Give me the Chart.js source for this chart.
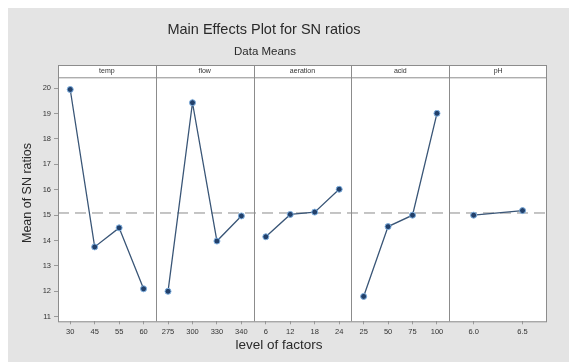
<!DOCTYPE html>
<html>
<head>
<meta charset="utf-8">
<script src="https://cdn.jsdelivr.net/npm/chart.js@4/dist/chart.umd.min.js"></script>
<style>
  html, body { margin: 0; padding: 0; background: #ffffff; }
  #wrap { width: 569px; height: 362px; position: relative; }
</style>
</head>
<body>
<div id="wrap"><canvas id="c" width="569" height="362"></canvas></div>
<script>
// Factor names shown in the panel headers
const factors = ['temp', 'flow', 'aeration', 'acid', 'pH'];

// Levels of each factor and the mean SN ratio at each level
const tempLevels = ['30', '45', '55', '60'];
const tempMeans = [19.95, 13.75, 14.50, 12.10];

const flowLevels = ['275', '300', '330', '340'];
const flowMeans = [12.00, 19.43, 13.98, 14.97];

const aerationLevels = ['6', '12', '18', '24'];
const aerationMeans = [14.15, 15.03, 15.12, 16.02];

const acidLevels = ['25', '50', '75', '100'];
const acidMeans = [11.80, 14.55, 15.00, 19.01];

const phLevels = ['6.0', '6.5'];
const phMeans = [15.00, 15.18];

// Y axis tick values
const yTickValues = [11, 12, 13, 14, 15, 16, 17, 18, 19, 20];

const levelSets = [tempLevels, flowLevels, aerationLevels, acidLevels, phLevels];
const meanSets = [tempMeans, flowMeans, aerationMeans, acidMeans, phMeans];

// Grand mean: average of each factor's level means, then across factors
const factorAvgs = meanSets.map(m => m.reduce((a, b) => a + b, 0) / m.length);
const grandMean = factorAvgs.reduce((a, b) => a + b, 0) / factorAvgs.length;

// Each factor occupies one unit on the x scale; levels sit at equal spacing inside it
const xTickEntries = [];
const datasets = meanSets.map((means, k) => {
  const n = means.length;
  const pts = means.map((v, i) => {
    const x = k + (i + 0.5) / n;
    xTickEntries.push({ value: x, label: levelSets[k][i] });
    return { x: x, y: v };
  });
  return {
    label: factors[k],
    data: pts,
    borderColor: '#3a5677',
    backgroundColor: '#22406a',
    pointBackgroundColor: '#22406a',
    pointBorderColor: '#7fb0e0',
    pointBorderWidth: 1,
    pointRadius: 3,
    borderWidth: 1.3,
    tension: 0
  };
});

const FONT = "'Liberation Sans', Arial, sans-serif";

const decor = {
  id: 'decor',
  beforeDraw(chart) {
    const ctx = chart.ctx;
    const a = chart.chartArea;
    ctx.save();
    ctx.fillStyle = '#ffffff';
    ctx.fillRect(0, 0, chart.width, chart.height);
    ctx.fillStyle = '#e4e4e4';
    ctx.fillRect(8, 8, chart.width - 8, chart.height - 8);
    // plot panel background including header strip
    ctx.fillStyle = '#ffffff';
    ctx.fillRect(a.left, 65, a.right - a.left, a.bottom - 65);
    ctx.restore();
  },
  beforeDatasetsDraw(chart) {
    const ctx = chart.ctx;
    const a = chart.chartArea;
    const ys = chart.scales.y;
    ctx.save();
    // grand mean reference line
    const gy = ys.getPixelForValue(grandMean);
    ctx.strokeStyle = '#8a8a8a';
    ctx.lineWidth = 1;
    ctx.setLineDash([11, 6]);
    ctx.beginPath();
    ctx.moveTo(a.left, gy);
    ctx.lineTo(a.right, gy);
    ctx.stroke();
    ctx.setLineDash([]);
    ctx.restore();
  },
  afterDraw(chart) {
    const ctx = chart.ctx;
    const a = chart.chartArea;
    const xs = chart.scales.x;
    ctx.save();
    ctx.strokeStyle = '#8c8c8c';
    ctx.lineWidth = 1;
    // outer frame and header strip
    ctx.strokeRect(a.left + 0.5, 65.5, a.right - a.left - 1, a.bottom - 65);
    ctx.beginPath();
    ctx.moveTo(a.left, a.top + 0.5);
    ctx.lineTo(a.right, a.top + 0.5);
    // panel dividers
    for (let k = 1; k < factors.length; k++) {
      const px = Math.round(xs.getPixelForValue(k)) + 0.5;
      ctx.moveTo(px, 65);
      ctx.lineTo(px, a.bottom);
    }
    ctx.stroke();
    // panel headers
    ctx.fillStyle = '#333333';
    ctx.font = '7px ' + FONT;
    ctx.textAlign = 'center';
    ctx.textBaseline = 'middle';
    factors.forEach((f, k) => {
      const cx = (xs.getPixelForValue(k) + xs.getPixelForValue(k + 1)) / 2;
      ctx.fillText(f, cx, 71.5);
    });
    // titles
    ctx.fillStyle = '#2a2a2a';
    ctx.font = '14.5px ' + FONT;
    ctx.fillText('Main Effects Plot for SN ratios', 264, 30);
    ctx.font = '11.5px ' + FONT;
    ctx.fillText('Data Means', 265, 52);
    ctx.font = '13.5px ' + FONT;
    ctx.fillText('level of factors', 279, 345);
    ctx.translate(28, 193);
    ctx.rotate(-Math.PI / 2);
    ctx.font = '12.5px ' + FONT;
    ctx.fillText('Mean of SN ratios', 0, 0);
    ctx.restore();
  }
};

new Chart(document.getElementById('c'), {
  type: 'line',
  data: { datasets: datasets },
  options: {
    responsive: false,
    animation: false,
    devicePixelRatio: 1,
    layout: { padding: { left: 0, top: 77.3, right: 22, bottom: 0 } },
    plugins: { legend: { display: false }, tooltip: { enabled: false }, title: { display: false } },
    scales: {
      x: {
        type: 'linear',
        min: 0,
        max: factors.length,
        border: { display: false },
        grid: { display: true, drawOnChartArea: false, drawTicks: true, tickLength: 3, color: '#9a9a9a' },
        afterBuildTicks(scale) {
          scale.ticks = xTickEntries.map(t => ({ value: t.value }));
        },
        afterFit(scale) { scale.height = 40.7; },
        ticks: {
          autoSkip: false,
          maxRotation: 0,
          padding: 3,
          color: '#333333',
          font: { size: 7.5, family: FONT },
          callback(value) {
            const t = xTickEntries.find(e => Math.abs(e.value - value) < 1e-6);
            return t ? t.label : '';
          }
        }
      },
      y: {
        type: 'linear',
        min: 10.82,
        max: 20.43,
        border: { display: false },
        grid: { display: true, drawOnChartArea: false, drawTicks: true, tickLength: 4, color: '#9a9a9a' },
        afterBuildTicks(scale) {
          scale.ticks = yTickValues.map(v => ({ value: v }));
        },
        afterFit(scale) { scale.width = 58; },
        ticks: {
          padding: 3,
          color: '#333333',
          font: { size: 7.5, family: FONT }
        }
      }
    }
  },
  plugins: [decor]
});
</script>
</body>
</html>
